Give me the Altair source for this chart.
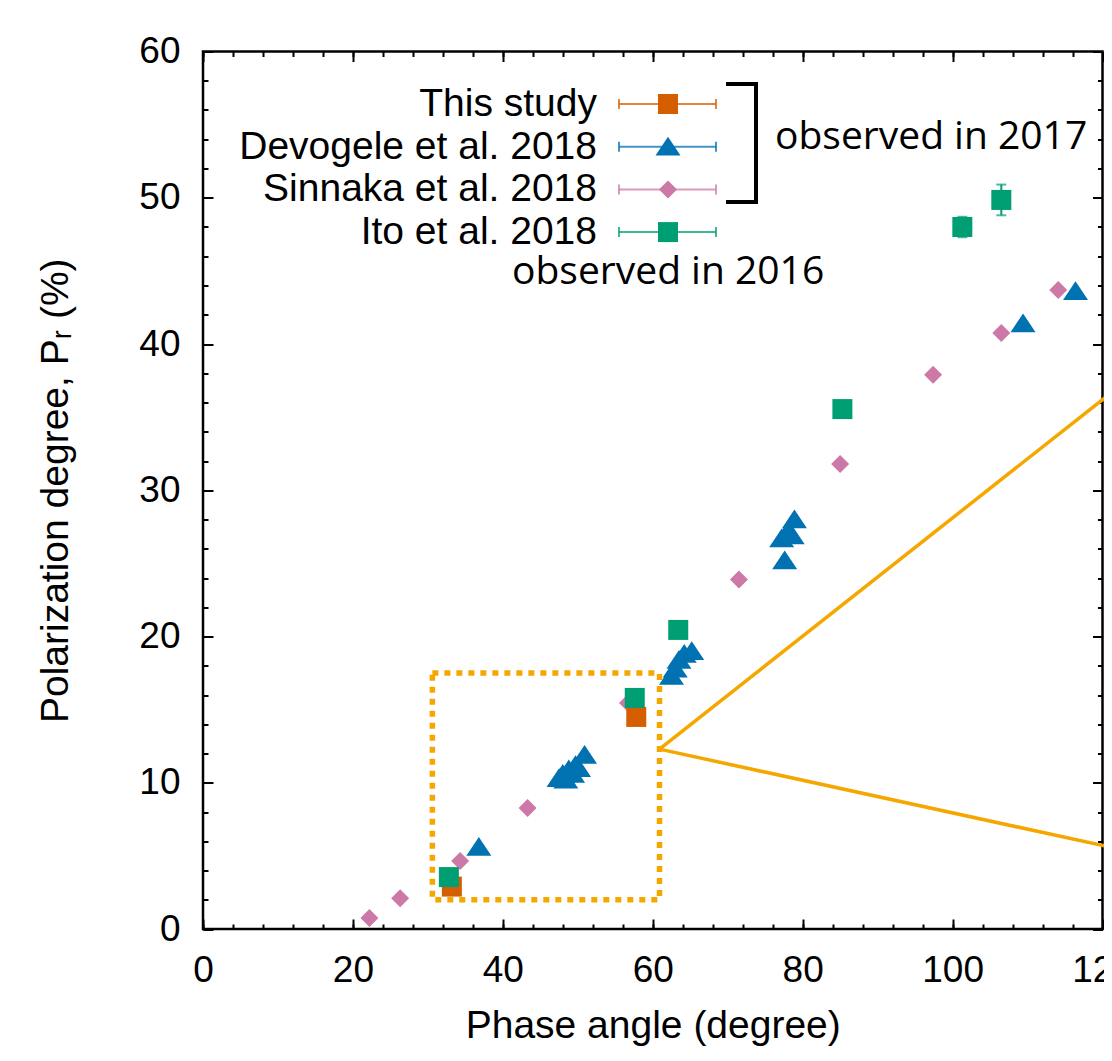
import altair as alt
import pandas as pd

# ---------------- data ----------------
series_names = ["This study", "Devogele et al. 2018", "Sinnaka et al. 2018", "Ito et al. 2018"]
colors = ["#D55E00", "#0072B2", "#CC79A7", "#009E73"]

this_x = [33.2, 57.8]
this_y = [2.9, 14.5]

dev_x = [36.8, 47.5, 48.0, 48.4, 48.8, 49.3, 49.7, 50.1, 50.9,
         62.5, 63.0, 63.5, 64.2, 65.2,
         77.6, 77.2, 77.9, 78.6, 78.9, 109.4, 116.4]
dev_y = [5.6, 10.3, 10.6, 10.2, 10.9, 10.6, 11.2, 11.0, 11.9,
         17.3, 17.8, 18.4, 18.8, 19.0,
         25.2, 26.7, 27.1, 26.9, 28.0, 41.4, 43.6]

sin_x = [22.2, 26.3, 34.3, 43.3, 56.7, 71.5, 85.0, 97.4, 106.5, 114.1]
sin_y = [0.75, 2.1, 4.65, 8.27, 15.45, 23.9, 31.8, 37.9, 40.75, 43.7]

ito_x = [32.8, 57.6, 63.4, 85.3, 101.3, 106.5]
ito_y = [3.55, 15.8, 20.45, 35.55, 48.0, 49.85]
ito_err = [0.2, 0.2, 0.3, 0.3, 0.7, 1.05]

x_major = [0, 20, 40, 60, 80, 100, 120]
x_minor = list(range(0, 121, 4))
y_major = [0, 10, 20, 30, 40, 50, 60]
y_minor = list(range(0, 61, 2))

# zoom box (data coordinates) and zoom lines
box = {"x": 30.6, "x2": 60.9, "y": 2.0, "y2": 17.5}
zoom_lines = pd.DataFrame({"x": [60.9, 60.9], "y": [12.3, 12.3],
                           "x2": [121.0, 121.0], "y2": [36.6, 5.6]})

# ---------------- layout constants ----------------
W, H = 899.5, 877.5
FONT = "Liberation Sans"
FS = 37
ORANGE = "#F5A700"
TRI = "M-1,0.7L0,-0.8L1,0.7Z"

xs = alt.Scale(domain=[0, 120], nice=False, zero=False)
ys = alt.Scale(domain=[0, 60], nice=False, zero=False)

styles = {
    "This study": dict(shape="square", size=400),
    "Devogele et al. 2018": dict(shape=TRI, size=625),
    "Sinnaka et al. 2018": dict(shape="diamond", size=324),
    "Ito et al. 2018": dict(shape="square", size=400),
}
col = dict(zip(series_names, colors))
data = {
    "This study": (this_x, this_y),
    "Devogele et al. 2018": (dev_x, dev_y),
    "Sinnaka et al. 2018": (sin_x, sin_y),
    "Ito et al. 2018": (ito_x, ito_y),
}


def X(field="x", **kw):
    return alt.X(f"{field}:Q", scale=xs, axis=None, **kw)


def Y(field="y", **kw):
    return alt.Y(f"{field}:Q", scale=ys, axis=None, **kw)


one = pd.DataFrame({"x": [0.0], "y": [0.0]})

layers = []

# main axes with labels and titles
main_axes = alt.Chart(one).mark_point(opacity=0).encode(
    x=alt.X("x:Q", scale=xs, axis=alt.Axis(
        orient="bottom", values=x_major, ticks=False, domain=False, grid=False,
        labelFont=FONT, labelFontSize=FS, labelColor="black", labelPadding=23,
        labelFlush=False, labelOverlap=False,
        title="Phase angle (degree)", titleFont=FONT, titleFontSize=39,
        titleFontWeight="normal", titleColor="black", titleBaseline="middle",
        titleY=96)),
    y=alt.Y("y:Q", scale=ys, axis=alt.Axis(
        orient="left", values=y_major, ticks=False, domain=False, grid=False,
        labelFont=FONT, labelFontSize=FS, labelColor="black", labelPadding=23,
        labelFlush=False, labelOverlap=False,
        title="Polarization degree, Pᵣ (%)", titleFont=FONT, titleFontSize=39,
        titleFontWeight="normal", titleColor="black", titleBaseline="middle",
        titleX=-148)),
)
layers.append(main_axes)


def tick_layer(xv, yv, size, xo, yo):
    common = dict(tickSize=size, tickWidth=2, tickColor="black", labels=False,
                  domain=False, grid=False, title=None)
    return alt.Chart(one).mark_point(opacity=0).encode(
        x=alt.X("x:Q", scale=xs, axis=alt.Axis(orient=xo, offset=-H, values=xv, **common)),
        y=alt.Y("y:Q", scale=ys, axis=alt.Axis(orient=yo, offset=-W, values=yv, **common)),
    )


# inward ticks: bottom/left and top/right
layers.append(tick_layer(x_major, y_major, 10, "top", "right"))
layers.append(tick_layer(x_minor, y_minor, 5, "top", "right"))
layers.append(tick_layer(x_major, y_major, 10, "bottom", "left"))
layers.append(tick_layer(x_minor, y_minor, 5, "bottom", "left"))

# dotted zoom box
box_df = pd.DataFrame([box])
layers.append(alt.Chart(box_df).mark_rect(
    fill=None, filled=False, stroke=ORANGE, strokeWidth=5.5, strokeDash=[6, 6]).encode(
    x=X("x"), x2="x2:Q", y=Y("y"), y2="y2:Q"))

# zoom lines
layers.append(alt.Chart(zoom_lines).mark_rule(
    color=ORANGE, strokeWidth=3.5, clip=False).encode(
    x=X("x"), x2="x2:Q", y=Y("y"), y2="y2:Q"))

# data points in drawing order
order = ["Sinnaka et al. 2018", "This study", "Devogele et al. 2018", "Ito et al. 2018"]
for s in order:
    xs_, ys_ = data[s]
    df = pd.DataFrame({"x": xs_, "y": ys_})
    if s == "Ito et al. 2018":
        df["lo"] = [v - e for v, e in zip(ito_y, ito_err)]
        df["hi"] = [v + e for v, e in zip(ito_y, ito_err)]
        layers.append(alt.Chart(df).mark_rule(color=col[s], strokeWidth=2).encode(
            x=X("x"), y=Y("lo"), y2="hi:Q"))
        for f in ["lo", "hi"]:
            layers.append(alt.Chart(df).mark_tick(
                color=col[s], orient="horizontal", size=10, thickness=2).encode(
                x=X("x"), y=Y(f)))
    layers.append(alt.Chart(df).mark_point(
        filled=True, opacity=1, strokeWidth=0, color=col[s],
        shape=styles[s]["shape"], size=styles[s]["size"]).encode(
        x=X("x"), y=Y("y")))

# ---------------- manual legend (pixel positions inside plot) ----------------
LEG_TEXT_X = 394
LEG_L, LEG_R, LEG_M = 416, 513, 465
ROW0, ROW_STEP = 52.5, 42.7
for i, s in enumerate(series_names):
    ly = ROW0 + i * ROW_STEP
    ldf = pd.DataFrame({"label": [s], "ly": [ly], "c1": [ly - 5], "c2": [ly + 5]})
    layers.append(alt.Chart(ldf).mark_text(
        align="right", baseline="middle", font=FONT, fontSize=39, color="black").encode(
        x=alt.value(LEG_TEXT_X), y=alt.Y("ly:Q", scale=None), text="label:N"))
    layers.append(alt.Chart(ldf).mark_rule(color=col[s], strokeWidth=2, opacity=0.75).encode(
        x=alt.value(LEG_L), x2=alt.value(LEG_R), y=alt.Y("ly:Q", scale=None)))
    for cx in (LEG_L, LEG_R):
        layers.append(alt.Chart(ldf).mark_rule(color=col[s], strokeWidth=2, opacity=0.75).encode(
            x=alt.value(cx), y=alt.Y("c1:Q", scale=None), y2="c2:Q"))
    layers.append(alt.Chart(ldf).mark_point(
        filled=True, opacity=1, strokeWidth=0, color=col[s],
        shape=styles[s]["shape"], size=styles[s]["size"]).encode(
        x=alt.value(LEG_M), y=alt.Y("ly:Q", scale=None)))

# bracket
bdf = pd.DataFrame({"a": [0]})
BX1, BX2, BY1, BY2 = 525, 553, 32.5, 150.5
layers.append(alt.Chart(bdf).mark_rule(color="black", strokeWidth=4, strokeCap="square").encode(
    x=alt.value(BX1), x2=alt.value(BX2), y=alt.value(BY1)))
layers.append(alt.Chart(bdf).mark_rule(color="black", strokeWidth=4, strokeCap="square").encode(
    x=alt.value(BX1), x2=alt.value(BX2), y=alt.value(BY2)))
layers.append(alt.Chart(bdf).mark_rule(color="black", strokeWidth=4, strokeCap="square").encode(
    x=alt.value(BX2), y=alt.value(BY1), y2=alt.value(BY2)))

notes = [("observed in 2017", 572, 85.5), ("observed in 2016", 309, 220.5)]
for txt, nx, ny in notes:
    ndf = pd.DataFrame({"t": [txt]})
    layers.append(alt.Chart(ndf).mark_text(
        align="left", baseline="middle", font="Open Sans", fontSize=39, color="black").encode(
        x=alt.value(nx), y=alt.value(ny), text="t:N"))

chart = alt.layer(*layers).resolve_axis(x="independent", y="independent").properties(
    width=W, height=H,
    autosize=alt.AutoSizeParams(type="none"),
    padding={"left": 195, "top": 43.5, "right": 1.5, "bottom": 119},
    background="white",
).configure_view(stroke="black", strokeWidth=2.5)

chart.save("out.html", embed_options={"renderer": "svg", "actions": False})
